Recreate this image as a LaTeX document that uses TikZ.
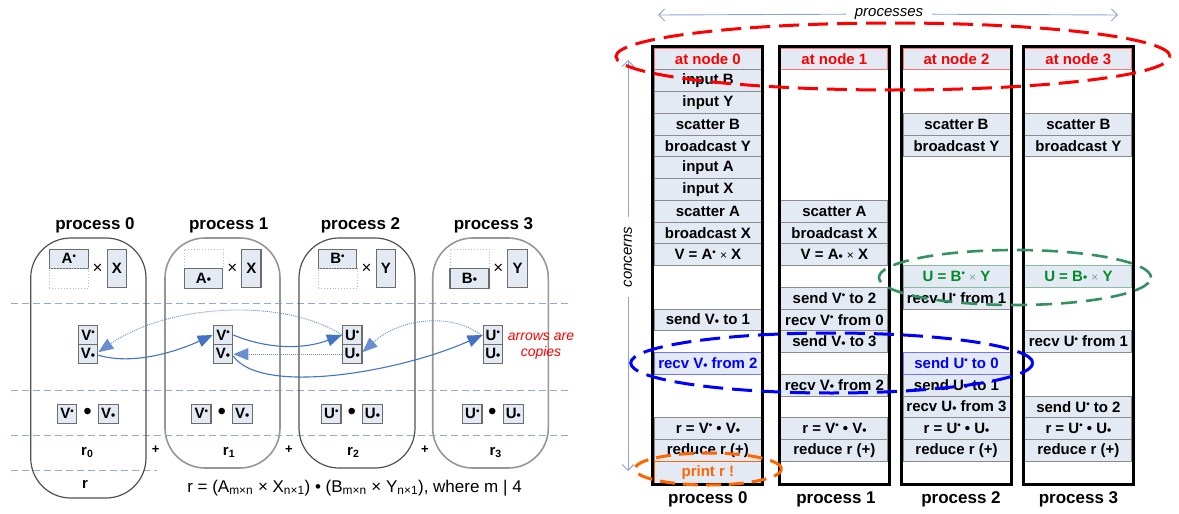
\documentclass[tikz,border=0pt]{standalone}
\usepackage{fontspec}
\setmainfont{Liberation Sans}
\usepackage{graphicx}
\usetikzlibrary{arrows.meta,shapes.geometric}
\definecolor{cellfill}{RGB}{228,234,244}
\definecolor{cellline}{RGB}{140,140,140}
\definecolor{flowblue}{RGB}{68,114,196}
\definecolor{guideblue}{RGB}{143,170,220}
\definecolor{axisblue}{RGB}{140,165,210}
\definecolor{redc}{RGB}{255,0,0}
\definecolor{greent}{RGB}{0,140,40}
\definecolor{greene}{RGB}{50,145,95}
\definecolor{bluec}{RGB}{0,0,255}
\definecolor{orangec}{RGB}{255,102,0}
\definecolor{darkbox}{RGB}{80,80,80}
\definecolor{lightbox}{RGB}{150,150,150}
\newcommand{\hi}{\raisebox{0.6ex}{\scalebox{0.65}{•}}}
\newcommand{\lo}{\raisebox{-0.1ex}{\scalebox{0.8}{•}}}
\newcommand{\tms}{{\mdseries\scalebox{0.8}{×}}}
\newcommand{\bigdot}{\scalebox{1.5}{•}}
\begin{document}
\begin{tikzpicture}[x=1pt,y=-1pt,
  cell/.style={draw=cellline, line width=1pt, fill=cellfill, minimum width=107pt, minimum height=21.75pt, inner sep=0pt, font=\fontsize{15}{17}\selectfont\bfseries},
  rcell/.style={cell, draw=redc!55, text=redc},
  gcell/.style={cell, draw=greene!60, text=greent},
  bcell/.style={cell, draw=bluec!55, text=bluec},
  ocell/.style={cell, draw=orangec, text=orangec},
  colframe/.style={draw=black, line width=3pt, minimum width=110pt, minimum height=438pt, inner sep=0pt},
  title/.style={font=\fontsize{17}{20}\selectfont\bfseries, inner sep=0pt},
  procbox/.style={draw=#1, line width=1.3pt, rounded corners=40pt, inner sep=0pt},
  sbox/.style={draw=gray!85!black, line width=1.2pt, fill=cellfill, inner sep=0pt, font=\fontsize{15}{17}\selectfont\bfseries},
  ghost/.style={draw=gray!55, dotted, line width=0.9pt, inner sep=0pt, minimum width=39pt, minimum height=19.5pt},
  plain/.style={inner sep=0pt, font=\fontsize{15}{17}\selectfont\bfseries},
  guide/.style={draw=guideblue, line width=1pt, dash pattern=on 7pt off 4pt},
  flow/.style={draw=flowblue, line width=1.1pt, -{Triangle[length=15pt,width=12pt]}},
  flowdot/.style={flow, line width=0.9pt, dash pattern=on 1pt off 1pt, draw=flowblue!80},
  axis/.style={draw=axisblue, line width=0.9pt, -{Straight Barb[length=6pt,width=12pt]}},
  ell/.style={line width=3pt, dash pattern=on 20pt off 9pt}
]
\useasboundingbox (0,0) rectangle (1179,514);

%================ LEFT PANEL ================
% guide lines
\draw[guide] (11,303.3) -- (568,303.3);
\draw[guide] (11,390) -- (568,390);
\draw[guide] (11,435) -- (568,435);
\draw[guide] (11,470) -- (157,470);

% process boxes
\node[procbox=darkbox, line width=1.2pt, minimum width=115.3pt, minimum height=260pt] (pb0) at (88.35,368) {};
\node[procbox=lightbox, line width=1.6pt, minimum width=115pt, minimum height=230pt] (pb1) at (222.5,353) {};
\node[procbox=darkbox, line width=1.2pt, minimum width=116pt, minimum height=230pt] (pb2) at (357,353) {};
\node[procbox=lightbox, line width=1.6pt, minimum width=115.6pt, minimum height=230pt] (pb3) at (490.5,353) {};

\node[title] (t0) at (95,225) {process 0};
\node[title] (t1) at (228.7,225) {process 1};
\node[title] (t2) at (360.5,225) {process 2};
\node[title] (t3) at (493.5,225) {process 3};

% matrices
\node[sbox, minimum width=39pt, minimum height=19pt] (a0) at (68.8,258.8) {A\hi};
\node[ghost] (g0) at (68.8,278.3) {};
\node[inner sep=0, font=\fontsize{17}{19}\selectfont] (m0) at (97.7,269) {×};
\node[sbox, minimum width=19.4pt, minimum height=38.4pt] (x0) at (117,268.5) {X};

\node[ghost] (g1) at (203.5,258.8) {};
\node[sbox, minimum width=38.4pt, minimum height=20pt] (a1) at (203.5,278.3) {A\lo};
\node[inner sep=0, font=\fontsize{17}{19}\selectfont] (m1) at (232.3,269) {×};
\node[sbox, minimum width=19.4pt, minimum height=38.4pt] (x1) at (251.3,268.5) {X};

\node[sbox, minimum width=38.4pt, minimum height=19pt] (b2) at (337.5,258.8) {B\hi};
\node[ghost] (g2) at (337.5,278.3) {};
\node[inner sep=0, font=\fontsize{17}{19}\selectfont] (m2) at (366.7,269) {×};
\node[sbox, minimum width=19.4pt, minimum height=38.4pt] (y2) at (385.8,268.5) {Y};

\node[ghost] (g3) at (469.5,258.8) {};
\node[sbox, minimum width=39pt, minimum height=20pt] (b3) at (469.5,278.3) {B\lo};
\node[inner sep=0, font=\fontsize{17}{19}\selectfont] (m3) at (498.3,269) {×};
\node[sbox, minimum width=19.4pt, minimum height=38.4pt] (y3) at (517.5,268.5) {Y};

% vector halves
\node[sbox, minimum width=19.4pt, minimum height=19.2pt] (v0h) at (88,335) {V\hi};
\node[sbox, minimum width=19.4pt, minimum height=19.2pt] (v0l) at (88,354.2) {V\lo};
\node[sbox, minimum width=19.4pt, minimum height=19.2pt] (v1h) at (223,335) {V\hi};
\node[sbox, minimum width=19.4pt, minimum height=19.2pt] (v1l) at (223,354.2) {V\lo};
\node[sbox, minimum width=19.4pt, minimum height=19.2pt] (u2h) at (352.2,335) {U\hi};
\node[sbox, minimum width=19.4pt, minimum height=19.2pt] (u2l) at (352.2,354.2) {U\lo};
\node[sbox, minimum width=19.4pt, minimum height=19.2pt] (u3h) at (492.8,335) {U\hi};
\node[sbox, minimum width=19.4pt, minimum height=19.2pt] (u3l) at (492.8,354.2) {U\lo};

\node[align=center, text=redc, font=\fontsize{14}{16.5}\selectfont\itshape, inner sep=0] (note) at (541,346) {arrows are\\copies};

% arrows
\draw[flow] ([yshift=-1pt]v0l.east) .. controls (135,366) and (180,350) .. (v1h.west);
\draw[flowdot] (u2h.west) .. controls (285,298) and (170,303) .. ([yshift=2pt]v0l.east);
\draw[flow] (v1h.east) .. controls (270,350) and (305,349) .. (u2h.west);
\draw[flowdot] (u2l.west) -- (v1l.east);
\draw[flow] ([yshift=-2pt]v1l.east) .. controls (262,396) and (400,372) .. (u3h.west);
\draw[flowdot] ([yshift=-1pt]u3h.west) .. controls (452,312) and (400,318) .. ([yshift=2pt]u2l.east);

% dot products
\node[sbox, minimum width=19.4pt, minimum height=19pt] (d0a) at (67,413.8) {V\hi};
\node[inner sep=0, font=\fontsize{16}{18}\selectfont] (d0m) at (87.7,413.8) {\bigdot};
\node[sbox, minimum width=20pt, minimum height=19pt] (d0b) at (108.3,413.8) {V\lo};
\node[sbox, minimum width=19.4pt, minimum height=19pt] (d1a) at (201.3,413.8) {V\hi};
\node[inner sep=0, font=\fontsize{16}{18}\selectfont] (d1m) at (221.7,413.8) {\bigdot};
\node[sbox, minimum width=20pt, minimum height=19pt] (d1b) at (242.3,413.8) {V\lo};
\node[sbox, minimum width=19.4pt, minimum height=19pt] (d2a) at (331.3,413.8) {U\hi};
\node[inner sep=0, font=\fontsize{16}{18}\selectfont] (d2m) at (351.7,413.8) {\bigdot};
\node[sbox, minimum width=20pt, minimum height=19pt] (d2b) at (372.5,413.8) {U\lo};
\node[sbox, minimum width=19.4pt, minimum height=19pt] (d3a) at (472.3,413.8) {U\hi};
\node[inner sep=0, font=\fontsize{16}{18}\selectfont] (d3m) at (492.3,413.8) {\bigdot};
\node[sbox, minimum width=20pt, minimum height=19pt] (d3b) at (513.3,413.8) {U\lo};

% partial results
\node[plain] (r0) at (87.3,452.7) {r\textsubscript{0}};
\node[plain] (r1) at (229,452.7) {r\textsubscript{1}};
\node[plain] (r2) at (353.3,452.7) {r\textsubscript{2}};
\node[plain] (r3) at (495.7,452.7) {r\textsubscript{3}};
\node[plain, font=\fontsize{13}{15}\selectfont\bfseries] (p1) at (155.7,450) {+};
\node[plain, font=\fontsize{13}{15}\selectfont\bfseries] (p2) at (289,450) {+};
\node[plain, font=\fontsize{13}{15}\selectfont\bfseries] (p3) at (425,450) {+};
\node[plain] (rr) at (85,484) {r};
\node[inner sep=0, font=\fontsize{17}{20}\selectfont] (formula) at (354.5,488) {r = (A\textsubscript{m×n} × X\textsubscript{n×1}) • (B\textsubscript{m×n} × Y\textsubscript{n×1}), where m | 4};

%================ RIGHT PANEL ================
% axes
\coordinate (pL) at (658,15);
\coordinate (pR) at (1118,15);
\node[inner sep=0pt, outer sep=9pt, font=\fontsize{15}{17}\selectfont\itshape] (ptxt) at (889,14) {processes};
\draw[axis] (ptxt) -- (pL);
\draw[axis] (ptxt) -- (pR);
\coordinate (cT) at (628,60);
\coordinate (cB) at (628,471);
\node[rotate=90, inner sep=0pt, outer sep=10pt, font=\fontsize{15}{17}\selectfont\itshape] (ctxt) at (628,257) {concerns};
\draw[axis] (ctxt) -- (cT);
\draw[axis] (ctxt) -- (cB);

% column 0
\node[rcell] (c0-0) at (707.9,58.875) {at node 0};
\foreach \r/\t in {1/{input B},2/{input Y},3/{scatter B},4/{broadcast Y},5/{input A},6/{input X},7/{scatter A},8/{broadcast X},9/{V = A\hi\ \tms\ X},12/{send V\lo\ to 1},17/{r = V\hi\ • V\lo},18/{reduce r (+)}}
  \node[cell] (c0-\r) at (707.9,{58.875+21.75*\r}) {\t};
\node[bcell] (c0-14) at (707.9,{58.875+21.75*14}) {recv V\lo\ from 2};
\node[ocell] (c0-19) at (707.9,{58.875+21.75*19}) {print r !};

% column 1
\node[rcell] (c1-0) at (834.4,58.875) {at node 1};
\foreach \r/\t in {7/{scatter A},8/{broadcast X},9/{V = A\lo\ \tms\ X},11/{send V\hi\ to 2},12/{recv V\hi\ from 0},13/{send V\lo\ to 3},15/{recv V\lo\ from 2},17/{r = V\hi\ • V\lo},18/{reduce r (+)}}
  \node[cell] (c1-\r) at (834.4,{58.875+21.75*\r}) {\t};

% column 2
\node[rcell] (c2-0) at (956.5,58.875) {at node 2};
\foreach \r/\t in {3/{scatter B},4/{broadcast Y},11/{recv U\hi\ from 1},15/{send U\lo\ to 1},16/{recv U\lo\ from 3},17/{r = U\hi\ • U\lo},18/{reduce r (+)}}
  \node[cell] (c2-\r) at (956.5,{58.875+21.75*\r}) {\t};
\node[gcell] (c2-10) at (956.5,{58.875+21.75*10}) {U = B\hi\ {\color{greene!70}\tms}\ Y};
\node[bcell] (c2-14) at (956.5,{58.875+21.75*14}) {send U\hi\ to 0};

% column 3
\node[rcell] (c3-0) at (1078.4,58.875) {at node 3};
\foreach \r/\t in {3/{scatter B},4/{broadcast Y},13/{recv U\hi\ from 1},16/{send U\hi\ to 2},17/{r = U\hi\ • U\lo},18/{reduce r (+)}}
  \node[cell] (c3-\r) at (1078.4,{58.875+21.75*\r}) {\t};
\node[gcell] (c3-10) at (1078.4,{58.875+21.75*10}) {U = B\lo\ {\color{greene!70}\tms}\ Y};

% column frames
\node[colframe] (col0) at (707.9,265.5) {};
\node[colframe] (col1) at (834.4,265.5) {};
\node[colframe] (col2) at (956.5,265.5) {};
\node[colframe] (col3) at (1078.4,265.5) {};

\node[title] (b0) at (707.9,499) {process 0};
\node[title] (b1) at (836,499) {process 1};
\node[title] (b2) at (961,499) {process 2};
\node[title] (b3) at (1078.5,499) {process 3};

% highlight ellipses
\draw[ell, draw=redc] (893,56.5) ellipse [x radius=277pt, y radius=33.5pt];
\draw[ell, draw=greene, line width=2.6pt, dash pattern=on 16pt off 9pt] (1015,277.5) ellipse [x radius=136pt, y radius=27.5pt];
\draw[ell, draw=bluec] (831.7,363) ellipse [x radius=201pt, y radius=30pt];
\draw[ell, draw=orangec, dash pattern=on 15pt off 8pt] (708.3,469) ellipse [x radius=73.3pt, y radius=16pt];
\end{tikzpicture}
\end{document}
